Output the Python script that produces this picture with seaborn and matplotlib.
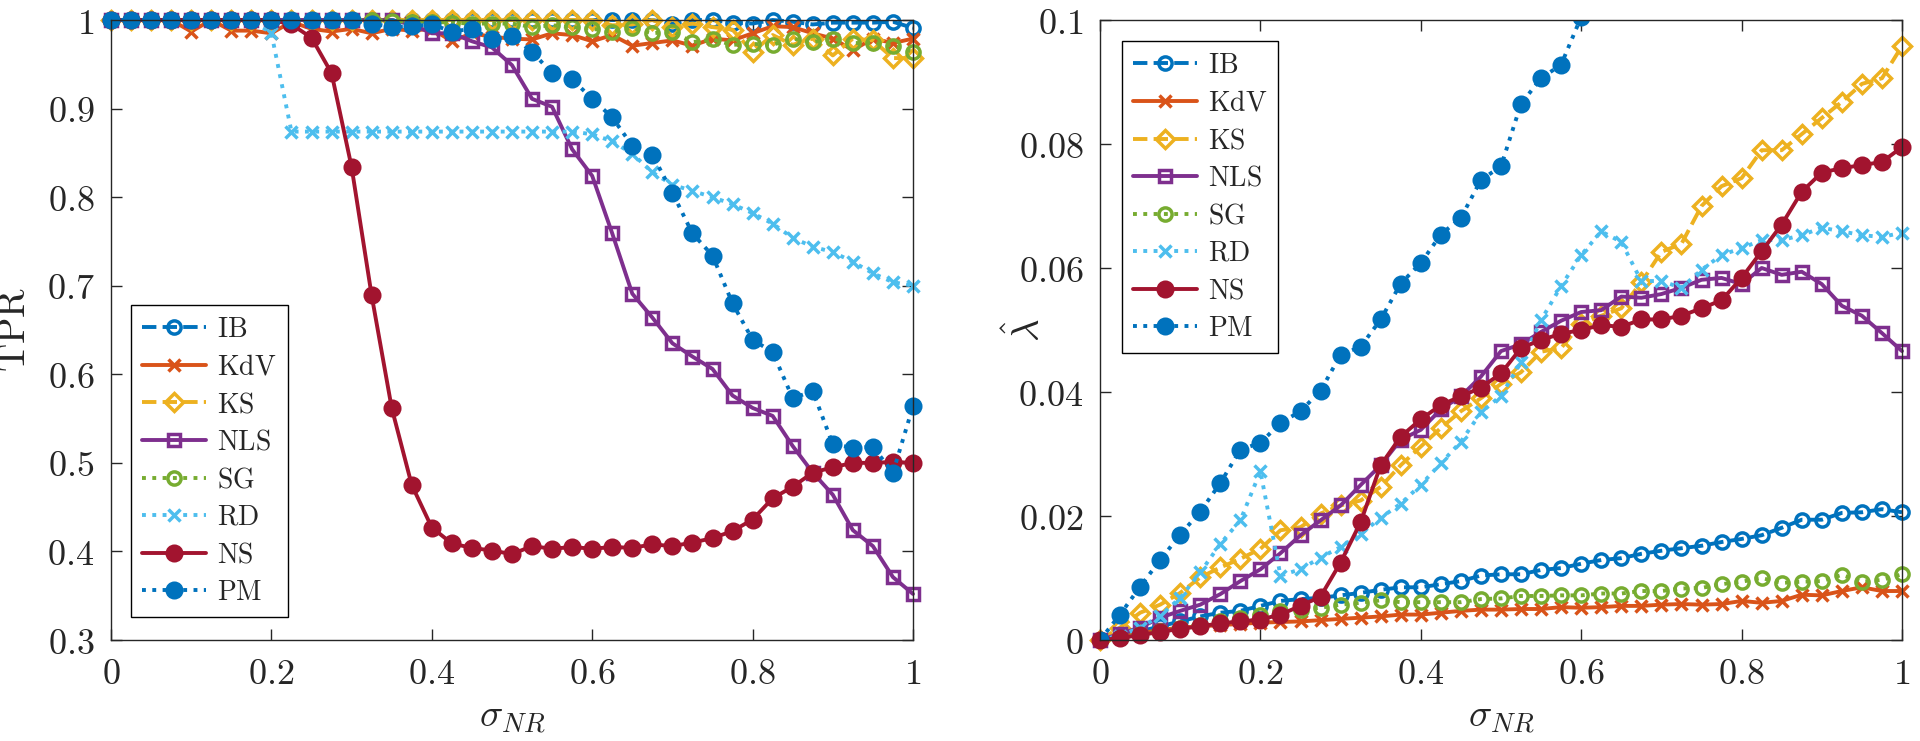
import numpy as np
import matplotlib
matplotlib.use("Agg")
import matplotlib.pyplot as plt
import seaborn as sns

# noise level grid (sigma_NR)
sigma = np.linspace(0, 1, 41)

methods = ["IB", "KdV", "KS", "NLS", "SG", "RD", "NS", "PM"]

# ---- TPR (left panel) ----
tpr_ib = [1.0] * 28 + [0.996, 1.0, 1.0, 0.997, 0.996, 1.0, 0.998, 0.995, 0.997, 0.997, 0.997, 0.998, 0.991]
tpr_kdv = [1.0, 1.0, 1.0, 1.0, 0.987, 1.0, 0.988, 0.988, 0.985, 0.998, 0.99, 0.987, 0.99, 0.985, 0.99,
           0.988, 0.99, 0.976, 0.985, 0.981, 0.979, 0.978, 0.985, 0.983, 0.976, 0.983, 0.971, 0.974,
           0.977, 0.971, 0.979, 0.977, 0.985, 0.993, 0.992, 0.985, 0.979, 0.966, 0.979, 0.974, 0.979]
tpr_ks = [1.0] * 25 + [0.994, 0.995, 1.0, 0.992, 0.996, 0.992, 0.989, 0.964, 0.983, 0.972, 0.979,
                       0.96, 0.979, 0.977, 0.957, 0.957]
tpr_nls = [1.0] * 15 + [0.995, 0.985, 0.985, 0.976, 0.969, 0.949, 0.911, 0.902, 0.854, 0.824, 0.759,
                        0.691, 0.664, 0.635, 0.620, 0.606, 0.576, 0.562, 0.553, 0.519, 0.489, 0.464,
                        0.424, 0.406, 0.371, 0.352]
tpr_sg = [1.0] * 14 + [0.999, 0.998, 0.998, 0.997, 0.996, 0.996, 0.996, 0.992, 0.994, 0.992, 0.99,
                       0.987, 0.991, 0.985, 0.987, 0.975, 0.978, 0.972, 0.973, 0.972, 0.979, 0.975,
                       0.979, 0.974, 0.974, 0.971, 0.964]
tpr_rd = [1.0] * 8 + [0.985] + [0.874] * 15 + [0.871, 0.863, 0.849, 0.828, 0.814, 0.807, 0.80, 0.792,
                                                0.782, 0.770, 0.754, 0.744, 0.738, 0.727, 0.714, 0.704, 0.70]
tpr_ns = [1.0] * 9 + [0.995, 0.98, 0.94, 0.834, 0.689, 0.562, 0.475, 0.427, 0.409, 0.404, 0.401, 0.397,
                      0.406, 0.403, 0.405, 0.403, 0.405, 0.404, 0.408, 0.406, 0.41, 0.415, 0.423, 0.436,
                      0.46, 0.473, 0.489, 0.495, 0.5, 0.5, 0.501, 0.5]
tpr_pm = [1.0] * 13 + [0.996, 0.992, 0.993, 0.995, 0.987, 0.99, 0.978, 0.982, 0.964, 0.94, 0.933, 0.911,
                       0.890, 0.858, 0.848, 0.805, 0.759, 0.734, 0.680, 0.639, 0.625, 0.573, 0.581,
                       0.521, 0.517, 0.518, 0.489, 0.564]

# ---- lambda hat (right panel) ----
lam_ib = [0, 0.0007, 0.0014, 0.0022, 0.003, 0.0038, 0.0044, 0.0047, 0.0055, 0.0063,
          0.0066, 0.0068, 0.0072, 0.0076, 0.0081, 0.0085, 0.0085, 0.009, 0.0095, 0.0104,
          0.0106, 0.0106, 0.0113, 0.0116, 0.0123, 0.0129, 0.0132, 0.0139, 0.0144, 0.0148,
          0.0152, 0.0158, 0.0163, 0.0169, 0.0181, 0.0194, 0.0194, 0.0205, 0.0206, 0.0211, 0.0206]
lam_kdv = [0, 0.0005, 0.0011, 0.0016, 0.002, 0.0022, 0.0024, 0.0026, 0.0028, 0.0029,
           0.003, 0.0032, 0.0034, 0.0036, 0.0038, 0.0041, 0.0041, 0.0044, 0.0047, 0.0049,
           0.0049, 0.005, 0.005, 0.0053, 0.0052, 0.0053, 0.0055, 0.0055, 0.0057, 0.0058,
           0.0057, 0.0058, 0.0063, 0.006, 0.0063, 0.0073, 0.0072, 0.0079, 0.0085, 0.0079, 0.0079]
lam_ks = [0, 0.002, 0.0044, 0.0057, 0.0076, 0.0101, 0.0117, 0.0131, 0.0147, 0.0177,
          0.0182, 0.0204, 0.0217, 0.0225, 0.0247, 0.0282, 0.0312, 0.0342, 0.0369, 0.039,
          0.0413, 0.0432, 0.0465, 0.0471, 0.051, 0.0523, 0.0535, 0.0577, 0.0626, 0.0639,
          0.070, 0.0732, 0.0745, 0.079, 0.079, 0.0816, 0.0842, 0.0868, 0.0897, 0.0906, 0.0958]
lam_nls = [0, 0.001, 0.002, 0.0036, 0.0047, 0.0057, 0.0074, 0.0095, 0.0114, 0.014,
           0.0169, 0.0193, 0.0217, 0.025, 0.0282, 0.0323, 0.0339, 0.0372, 0.0393, 0.0425,
           0.0466, 0.0477, 0.0497, 0.0515, 0.0529, 0.0532, 0.0554, 0.0552, 0.0558, 0.0568,
           0.0581, 0.0584, 0.0574, 0.060, 0.0589, 0.0594, 0.0574, 0.0539, 0.0523, 0.0495, 0.0466]
lam_sg = [0, 0.0003, 0.001, 0.0015, 0.002, 0.0025, 0.003, 0.0036, 0.004, 0.0047,
          0.0049, 0.0052, 0.0057, 0.006, 0.0064, 0.0061, 0.0061, 0.0061, 0.0061, 0.0066,
          0.0067, 0.0071, 0.0071, 0.0072, 0.0072, 0.0075, 0.0075, 0.0079, 0.0079, 0.0083,
          0.0084, 0.009, 0.0094, 0.010, 0.0092, 0.0094, 0.0095, 0.0105, 0.0094, 0.0097, 0.0106]
lam_rd = [0, 0.0007, 0.002, 0.0039, 0.0068, 0.0109, 0.0155, 0.0193, 0.0272, 0.0104,
          0.0114, 0.0133, 0.015, 0.0171, 0.0197, 0.022, 0.025, 0.0285, 0.032, 0.0367,
          0.0394, 0.0448, 0.0516, 0.0571, 0.0621, 0.0659, 0.0642, 0.0579, 0.0579, 0.0568,
          0.0597, 0.0621, 0.0632, 0.0645, 0.0645, 0.0653, 0.0665, 0.0659, 0.0653, 0.065, 0.0657]
lam_ns = [0, 0.0003, 0.0008, 0.0013, 0.0018, 0.0022, 0.0027, 0.003, 0.0033, 0.0041,
          0.0055, 0.007, 0.0125, 0.019, 0.0282, 0.0328, 0.0356, 0.0379, 0.0393, 0.0407,
          0.043, 0.0471, 0.0484, 0.0494, 0.05, 0.0508, 0.0505, 0.0517, 0.0517, 0.0523,
          0.0535, 0.0548, 0.0584, 0.0627, 0.067, 0.0723, 0.0754, 0.0761, 0.0766, 0.0771, 0.0795]
lam_pm = [0, 0.0041, 0.0086, 0.0129, 0.017, 0.0207, 0.0253, 0.0307, 0.0318, 0.035,
          0.0369, 0.0402, 0.046, 0.0473, 0.0517, 0.0575, 0.0608, 0.0654, 0.0681, 0.0742,
          0.0764, 0.0865, 0.0906, 0.0928, 0.1005, 0.105, 0.109, 0.114, 0.118, 0.123,
          0.127, 0.132, 0.137, 0.141, 0.146, 0.151, 0.155, 0.16, 0.164, 0.169, 0.173]

tpr = [tpr_ib, tpr_kdv, tpr_ks, tpr_nls, tpr_sg, tpr_rd, tpr_ns, tpr_pm]
lam = [lam_ib, lam_kdv, lam_ks, lam_nls, lam_sg, lam_rd, lam_ns, lam_pm]

# matlab default colours / line specs
style = {
    "IB":  ("#0072BD", "--", "o", "none", 9.5),
    "KdV": ("#D95319", "-",  "x", "#D95319", 9),
    "KS":  ("#EDB120", "--", "D", "none", 9),
    "NLS": ("#7E2F8E", "-",  "s", "none", 9),
    "SG":  ("#77AC30", ":",  "o", "none", 9.5),
    "RD":  ("#4DBEEE", ":",  "x", "#4DBEEE", 9),
    "NS":  ("#A2142F", "-",  "o", "#A2142F", 10.5),
    "PM":  ("#0072BD", ":",  "o", "#0072BD", 10.5),
}

sns.set_style("ticks")
plt.rcParams["font.family"] = ["DejaVu Serif"]
plt.rcParams["mathtext.fontset"] = "cm"

fig = plt.figure(figsize=(19.2, 7.41), dpi=100)
ax1 = fig.add_axes([111 / 1920, 101 / 741, 802 / 1920, 620 / 741])
ax2 = fig.add_axes([1100 / 1920, 101 / 741, 802 / 1920, 620 / 741])


def draw(ax, series, clip_last=False):
    for name, vals in zip(methods, series):
        c, ls, mk, fc, ms = style[name]
        clip = clip_last and name == "PM"
        sns.lineplot(x=sigma, y=vals, ax=ax, color=c, linestyle=ls, linewidth=2.8,
                     marker=mk, markersize=ms, markerfacecolor=fc, markeredgecolor=c,
                     markeredgewidth=2.5, label="$\\mathrm{%s}$" % name, clip_on=clip)


draw(ax1, tpr)
draw(ax2, lam, clip_last=True)

xt = [0, 0.2, 0.4, 0.6, 0.8, 1]
for ax in (ax1, ax2):
    ax.set_xlim(0, 1)
    ax.set_xticks(xt, labels=["$%g$" % t for t in xt])
    ax.tick_params(direction="in", length=8, width=1, top=True, right=True,
                   labelsize=26, color="#262626", pad=12)
    for sp in ax.spines.values():
        sp.set_visible(True)
        sp.set_color("#262626")
        sp.set_linewidth(1)
    ax.set_xlabel("$\\sigma_{NR}$", fontsize=28)
    ax.xaxis.set_label_coords(0.5, -0.095)

yt1 = [0.3, 0.4, 0.5, 0.6, 0.7, 0.8, 0.9, 1]
ax1.set_ylim(0.3, 1)
ax1.set_yticks(yt1, labels=["$%g$" % t for t in yt1])
ax1.set_ylabel("$\\mathrm{TPR}$", fontsize=28)
ax1.yaxis.set_label_coords(-0.097, 0.5)

yt2 = [0, 0.02, 0.04, 0.06, 0.08, 0.1]
ax2.set_ylim(0, 0.1)
ax2.set_yticks(yt2, labels=["$%g$" % t for t in yt2])
ax2.set_ylabel("$\\hat{\\lambda}$", fontsize=28)
ax2.yaxis.set_label_coords(-0.065, 0.5)

legkw = dict(fontsize=20, frameon=True, fancybox=False, edgecolor="black", framealpha=1,
             borderaxespad=0, handlelength=2.3, handletextpad=0.4, labelspacing=0.38,
             borderpad=0.4)
lg1 = ax1.legend(loc="lower left", bbox_to_anchor=(0.025, 0.037), **legkw)
lg2 = ax2.legend(loc="upper left", bbox_to_anchor=(0.027, 0.966), **legkw)
for lg in (lg1, lg2):
    lg.get_frame().set_linewidth(1)

fig.savefig("out.png", dpi=100)
